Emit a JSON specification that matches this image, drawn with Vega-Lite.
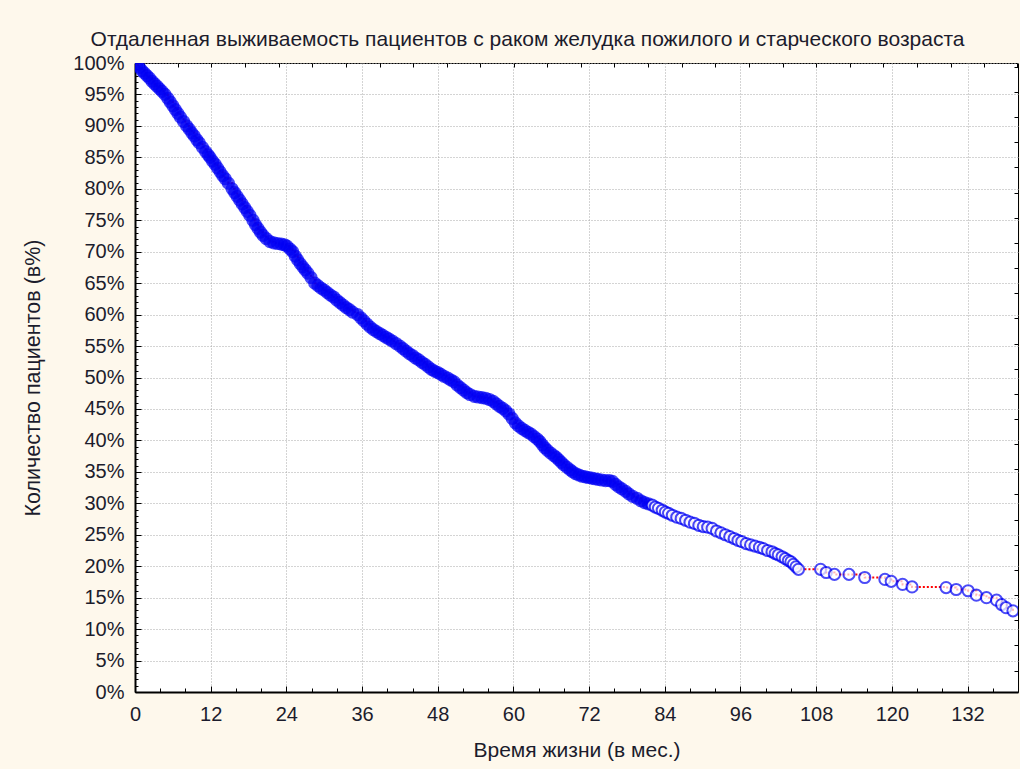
{
  "$schema": "https://vega.github.io/schema/vega-lite/v6.json",
  "width": 883,
  "height": 629,
  "autosize": {"type": "none"},
  "padding": {"left": 135, "top": 63, "right": 2, "bottom": 77},
  "background": "#fef8ec",
  "title": {"text": "Отдаленная выживаемость пациентов с раком желудка пожилого и старческого возраста", "fontSize": 21, "fontWeight": "normal", "font": "Liberation Sans", "color": "#1c1c2c", "anchor": "middle", "frame": "group", "dx": -49, "offset": 3},
  "config": {
    "view": {"fill": "white", "stroke": "black", "strokeWidth": 1},
    "axis": {"labelFont": "Liberation Sans", "titleFont": "Liberation Sans", "labelColor": "#1c1c2c", "titleColor": "#1c1c2c", "titleFontWeight": "normal", "labelFontSize": 20, "titleFontSize": 21, "tickColor": "black", "domainColor": "black", "labelOverlap": false, "labelBound": false, "labelFlush": false}
  },
  "data": {"values": [
    {"t":0.3,"p":99.7},{"t":0.7,"p":99.3},{"t":1.1,"p":98.8},{"t":1.5,"p":98.4},{"t":1.9,"p":98.0},{"t":2.3,"p":97.6},{"t":2.7,"p":97.1},{"t":3.1,"p":96.7},{"t":3.5,"p":96.3},{"t":3.9,"p":95.9},{"t":4.3,"p":95.5},{"t":4.75,"p":95.0},
    {"t":5.2,"p":94.4},{"t":5.6,"p":93.8},{"t":6.0,"p":93.2},{"t":6.4,"p":92.6},{"t":6.8,"p":92.0},{"t":7.2,"p":91.4},{"t":7.7,"p":90.7},{"t":8.2,"p":90.0},
    {"t":8.6,"p":89.5},{"t":9.0,"p":88.9},{"t":9.4,"p":88.4},{"t":9.8,"p":87.8},{"t":10.2,"p":87.3},{"t":10.7,"p":86.6},{"t":11.2,"p":85.9},{"t":11.6,"p":85.4},{"t":11.9,"p":85.0},
    {"t":12.3,"p":84.4},{"t":12.7,"p":83.9},{"t":13.1,"p":83.3},{"t":13.5,"p":82.7},{"t":13.9,"p":82.1},{"t":14.3,"p":81.6},{"t":14.8,"p":80.9},{"t":15.4,"p":80.0},
    {"t":15.8,"p":79.4},{"t":16.2,"p":78.8},{"t":16.6,"p":78.2},{"t":17.0,"p":77.6},{"t":17.4,"p":77.0},{"t":17.8,"p":76.4},{"t":18.2,"p":75.8},{"t":18.7,"p":75.0},
    {"t":19.1,"p":74.3},{"t":19.5,"p":73.7},{"t":19.9,"p":73.1},{"t":20.3,"p":72.6},{"t":20.8,"p":72.1},{"t":21.4,"p":71.6},
    {"t":22.0,"p":71.4},{"t":22.6,"p":71.3},{"t":23.2,"p":71.2},{"t":23.7,"p":71.1},{"t":24.1,"p":70.9},{"t":24.6,"p":70.4},{"t":25.0,"p":70.0},
    {"t":25.4,"p":69.3},{"t":25.8,"p":68.7},{"t":26.2,"p":68.1},{"t":26.6,"p":67.6},{"t":27.0,"p":67.1},{"t":27.4,"p":66.6},{"t":27.9,"p":65.9},{"t":28.5,"p":65.0},
    {"t":29.0,"p":64.6},{"t":29.5,"p":64.2},{"t":30.0,"p":63.9},{"t":30.5,"p":63.5},{"t":31.0,"p":63.1},{"t":31.5,"p":62.8},{"t":32.0,"p":62.3},{"t":32.5,"p":61.9},{"t":33.0,"p":61.5},{"t":33.5,"p":61.1},{"t":34.0,"p":60.8},{"t":34.5,"p":60.4},{"t":35.3,"p":60.0},
    {"t":35.8,"p":59.5},{"t":36.3,"p":59.0},{"t":36.8,"p":58.5},{"t":37.3,"p":58.0},{"t":37.8,"p":57.6},{"t":38.3,"p":57.3},{"t":38.8,"p":57.0},{"t":39.3,"p":56.7},{"t":39.8,"p":56.4},{"t":40.3,"p":56.1},{"t":40.8,"p":55.8},{"t":41.4,"p":55.4},{"t":42.0,"p":55.0},
    {"t":42.5,"p":54.6},{"t":43.0,"p":54.2},{"t":43.5,"p":53.8},{"t":44.0,"p":53.5},{"t":44.5,"p":53.1},{"t":45.0,"p":52.8},{"t":45.5,"p":52.4},{"t":46.0,"p":52.1},{"t":46.5,"p":51.7},{"t":47.0,"p":51.3},{"t":47.5,"p":51.0},{"t":48.0,"p":50.8},{"t":48.5,"p":50.5},{"t":49.0,"p":50.2},{"t":49.6,"p":49.9},
    {"t":50.1,"p":49.6},{"t":50.6,"p":49.3},{"t":51.1,"p":48.8},{"t":51.6,"p":48.4},{"t":52.1,"p":48.0},{"t":52.6,"p":47.6},{"t":53.1,"p":47.3},{"t":53.8,"p":47.0},
    {"t":54.4,"p":46.9},{"t":55.0,"p":46.8},{"t":55.6,"p":46.7},{"t":56.2,"p":46.5},{"t":56.8,"p":46.2},{"t":57.3,"p":45.8},{"t":57.8,"p":45.4},{"t":58.3,"p":45.1},{"t":58.8,"p":44.7},
    {"t":59.3,"p":44.2},{"t":59.8,"p":43.5},{"t":60.3,"p":42.8},{"t":60.8,"p":42.3},{"t":61.3,"p":41.9},{"t":61.8,"p":41.6},{"t":62.3,"p":41.3},{"t":62.8,"p":41.0},{"t":63.3,"p":40.6},{"t":63.8,"p":40.2},{"t":64.2,"p":39.8},
    {"t":64.6,"p":39.3},{"t":65.0,"p":38.8},{"t":65.4,"p":38.4},{"t":65.9,"p":38.0},{"t":66.4,"p":37.6},{"t":66.8,"p":37.3},{"t":67.2,"p":36.9},{"t":67.6,"p":36.5},{"t":68.0,"p":36.1},{"t":68.5,"p":35.7},{"t":69.0,"p":35.3},{"t":69.4,"p":35.0},
    {"t":69.9,"p":34.7},{"t":70.4,"p":34.5},{"t":70.9,"p":34.3},{"t":71.4,"p":34.2},{"t":71.9,"p":34.1},{"t":72.4,"p":34.0},{"t":72.9,"p":33.9},{"t":73.4,"p":33.8},{"t":74.0,"p":33.7},{"t":74.6,"p":33.6},{"t":75.2,"p":33.6},{"t":75.7,"p":33.5},
    {"t":76.2,"p":33.0},{"t":76.7,"p":32.6},{"t":77.2,"p":32.3},{"t":77.8,"p":31.9},{"t":78.3,"p":31.5},{"t":78.9,"p":31.1},{"t":79.6,"p":30.8},{"t":80.2,"p":30.4},{"t":80.8,"p":30.1},{"t":81.4,"p":29.9},{"t":82.0,"p":29.7},{"t":82.5,"p":29.4},{"t":83.0,"p":29.2},{"t":83.6,"p":28.9},
    {"t":84.1,"p":28.6},{"t":84.6,"p":28.4},{"t":85.2,"p":28.1},{"t":85.9,"p":27.8},{"t":86.6,"p":27.6},{"t":87.3,"p":27.3},{"t":88.0,"p":27.0},{"t":88.7,"p":26.8},{"t":89.4,"p":26.5},{"t":90.1,"p":26.3},{"t":90.8,"p":26.2},{"t":91.5,"p":26.0},
    {"t":92.2,"p":25.6},{"t":92.9,"p":25.3},{"t":93.6,"p":25.0},{"t":94.3,"p":24.7},{"t":95.0,"p":24.4},{"t":95.6,"p":24.1},{"t":96.2,"p":23.9},{"t":96.9,"p":23.6},{"t":97.6,"p":23.4},{"t":98.3,"p":23.2},{"t":99.0,"p":23.0},{"t":99.6,"p":22.8},
    {"t":100.3,"p":22.5},{"t":101.0,"p":22.3},{"t":101.5,"p":22.0},{"t":102.0,"p":21.8},{"t":102.6,"p":21.5},{"t":103.1,"p":21.2},{"t":103.6,"p":20.9},{"t":104.0,"p":20.7},{"t":104.4,"p":20.3},{"t":104.8,"p":19.9},{"t":105.2,"p":19.5},
    {"t":108.7,"p":19.5},{"t":109.6,"p":19.0},{"t":110.9,"p":18.7},{"t":113.2,"p":18.7},{"t":115.7,"p":18.2},{"t":118.9,"p":17.9},{"t":119.9,"p":17.6},{"t":121.7,"p":17.1},{"t":123.2,"p":16.7},
    {"t":128.6,"p":16.6},{"t":130.2,"p":16.3},{"t":132.1,"p":16.1},{"t":133.4,"p":15.4},{"t":135.0,"p":15.0},{"t":136.6,"p":14.6},{"t":137.4,"p":13.9},{"t":138.1,"p":13.4},{"t":139.2,"p":12.9}
  ]},
  "layer": [
    {
      "mark": {"type": "line", "interpolate": "step-after", "color": "#ff0000", "strokeWidth": 2, "strokeDash": [2, 2], "clip": true},
      "encoding": {
        "x": {"field": "t", "type": "quantitative", "scale": {"domain": [0, 140], "nice": false, "zero": false},
          "axis": {"orient": "bottom", "title": "Время жизни (в мес.)", "values": [0,4,8,12,16,20,24,28,32,36,40,44,48,52,56,60,64,68,72,76,80,84,88,92,96,100,104,108,112,116,120,124,128,132,136,140],
            "labelExpr": "datum.value % 12 === 0 && datum.value < 140 ? datum.label : ''",
            "tickSize": {"condition": {"test": "datum.value % 12 === 0", "value": -6}, "value": -4},
            "grid": true, "gridColor": "#a8a8a8", "gridDash": [1, 2],
            "gridOpacity": {"condition": {"test": "datum.value % 12 === 0", "value": 1}, "value": 0},
            "domainWidth": 2, "labelPadding": 18, "titlePadding": 13}},
        "y": {"field": "p", "type": "quantitative", "scale": {"domain": [0, 100], "nice": false},
          "axis": {"orient": "left", "title": "Количество пациентов (в%)", "titleFontSize": 21.5, "values": [0,1,2,3,4,5,6,7,8,9,10,11,12,13,14,15,16,17,18,19,20,21,22,23,24,25,26,27,28,29,30,31,32,33,34,35,36,37,38,39,40,41,42,43,44,45,46,47,48,49,50,51,52,53,54,55,56,57,58,59,60,61,62,63,64,65,66,67,68,69,70,71,72,73,74,75,76,77,78,79,80,81,82,83,84,85,86,87,88,89,90,91,92,93,94,95,96,97,98,99,100],
            "labelExpr": "datum.value % 5 === 0 ? datum.value + '%' : ''",
            "tickSize": {"condition": {"test": "datum.value % 5 === 0", "value": -6}, "value": -3},
            "grid": true, "gridColor": "#a8a8a8", "gridDash": [1, 2],
            "gridOpacity": {"condition": {"test": "datum.value % 5 === 0", "value": 1}, "value": 0},
            "domainWidth": 2, "labelPadding": 17, "titlePadding": 28}}
      }
    },
    {
      "mark": {"type": "point", "shape": "circle", "color": "#0000f5", "size": 125, "strokeWidth": 2, "clip": true},
      "encoding": {
        "x": {"field": "t", "type": "quantitative",
          "axis": {"orient": "top", "title": null, "labels": false, "grid": false, "domain": false, "tickSize": -4, "values": [1.5,6.8,12.1,17.5,22.8,28.1,33.4,38.8,44.1,49.4,54.7,60.1,65.4,70.7,76,81.4,86.7,92,97.3,102.7,108,113.3,118.6,124,129.3,134.6,139.9]}},
        "y": {"field": "p", "type": "quantitative",
          "axis": {"orient": "right", "title": null, "labels": false, "grid": false, "domain": false, "tickSize": -4, "values": [3.4,7.4,11.4,15.4,19.4,23.4,27.4,31.4,35.4,39.4,43.4,47.4,51.4,55.4,59.4,63.4,67.4,71.4,75.4,79.4,83.4,87.4,91.4,95.4,99.4]}},
        "fill": {"condition": {"test": "datum.t < 82", "value": "#0000f5"}, "value": "white"}
      }
    }
  ],
  "resolve": {"axis": {"x": "independent", "y": "independent"}}
}
